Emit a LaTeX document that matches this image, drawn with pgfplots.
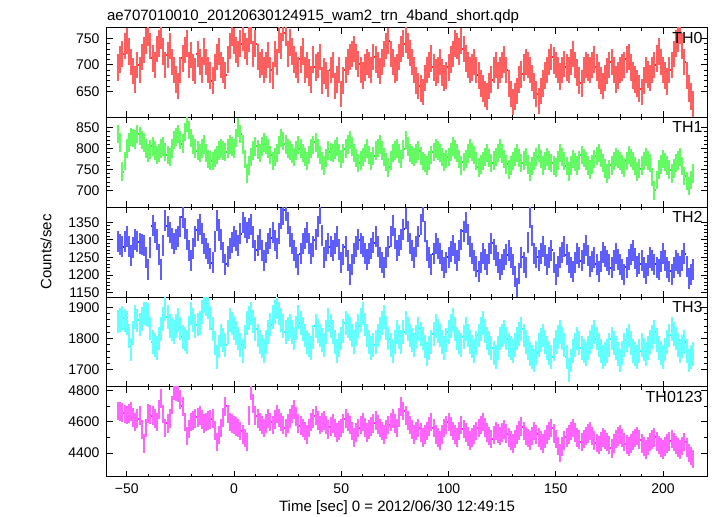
\documentclass[border=0pt]{standalone}
\usepackage{fontspec}
\setmainfont{Liberation Sans}
\usepackage{pgfplots}
\usepackage{pgfplotstable}
\pgfplotsset{compat=1.18}
\definecolor{qred}{RGB}{255,40,40}
\definecolor{qgreen}{RGB}{40,240,40}
\definecolor{qblue}{RGB}{40,40,255}
\definecolor{qcyan}{RGB}{40,250,250}
\definecolor{qmagenta}{RGB}{255,40,255}
\definecolor{lred}{RGB}{255,95,95}
\definecolor{lgreen}{RGB}{100,250,100}
\definecolor{lblue}{RGB}{95,95,255}
\definecolor{lcyan}{RGB}{100,255,255}
\definecolor{lmagenta}{RGB}{255,100,255}

\pgfplotstableread{
t a b c d e
-54 695 835 1295 1855 4670
-53 710 815 1288 1860 4665
-52 720 745 1280 1865 4660
-51 735 770 1295 1858 4650
-50 745 800 1310 1850 4645
-49 725 815 1282 1808 4655
-48 705 828 1255 1765 4665
-47 688 825 1278 1818 4630
-46 672 822 1300 1870 4600
-45 700 835 1295 1858 4620
-44 690 830 1290 1845 4640
-43 715 820 1288 1862 4550
-42 728 815 1285 1880 4460
-41 745 800 1250 1878 4560
-40 760 790 1215 1875 4655
-39 735 798 1278 1832 4648
-38 712 805 1340 1790 4640
-37 700 795 1320 1780 4620
-36 730 785 1300 1770 4600
-35 740 790 1258 1800 4680
-34 755 800 1215 1830 4750
-33 725 805 1285 1862 4650
-32 700 792 1355 1895 4560
-31 718 785 1338 1868 4590
-30 735 780 1320 1840 4620
-29 705 800 1305 1830 4710
-28 690 820 1290 1820 4800
-27 672 828 1300 1840 4795
-26 660 835 1310 1860 4790
-25 690 820 1338 1832 4745
-24 712 812 1365 1805 4700
-23 728 840 1332 1798 4600
-22 740 862 1300 1790 4510
-21 700 845 1270 1835 4555
-20 718 825 1240 1880 4600
-19 695 810 1275 1860 4610
-18 688 800 1310 1840 4620
-17 720 795 1328 1845 4630
-16 705 790 1345 1850 4640
-15 690 800 1318 1885 4615
-14 725 810 1290 1920 4590
-13 705 790 1275 1910 4600
-12 690 775 1260 1900 4610
-11 680 772 1248 1865 4615
-10 670 770 1235 1830 4620
-9 695 778 1295 1785 4545
-8 715 785 1355 1740 4470
-7 725 795 1328 1775 4515
-6 700 800 1300 1810 4560
-5 690 795 1265 1795 4630
-4 680 792 1230 1780 4700
-3 710 800 1252 1820 4650
-2 735 810 1275 1860 4600
-1 760 805 1292 1848 4590
0 745 800 1310 1835 4580
1 728 825 1298 1818 4570
2 720 850 1285 1800 4560
3 740 835 1318 1780 4540
4 752 810 1350 1760 4520
5 735 775 1335 1805 4495
6 725 740 1320 1850 4470
7 750 760 1332 1865 4640
8 765 780 1345 1880 4800
9 720 795 1308 1855 4720
10 740 805 1270 1830 4640
11 715 798 1285 1810 4620
12 700 790 1300 1790 4600
13 705 805 1270 1775 4580
14 690 815 1240 1760 4560
15 700 808 1265 1790 4590
16 718 800 1290 1820 4620
17 690 785 1305 1845 4600
18 680 770 1320 1870 4580
19 720 780 1298 1885 4615
20 705 790 1275 1900 4650
21 748 808 1318 1880 4625
22 735 825 1360 1860 4600
23 770 818 1372 1840 4580
24 760 810 1385 1820 4560
25 720 800 1348 1830 4590
26 742 795 1310 1840 4620
27 725 788 1290 1820 4650
28 710 780 1270 1800 4680
29 700 795 1250 1835 4635
30 690 808 1230 1870 4590
31 710 800 1260 1850 4575
32 725 790 1290 1830 4560
33 690 780 1305 1810 4540
34 700 770 1320 1790 4520
35 685 785 1290 1780 4560
36 672 800 1260 1770 4600
37 710 808 1280 1805 4620
38 695 815 1300 1840 4640
39 700 800 1338 1825 4610
40 715 785 1375 1810 4580
41 670 770 1312 1795 4595
42 688 760 1250 1780 4610
43 680 778 1270 1820 4580
44 665 795 1290 1860 4550
45 690 792 1280 1840 4570
46 700 790 1270 1820 4590
47 660 798 1290 1790 4560
48 672 805 1310 1760 4530
49 690 790 1272 1780 4545
50 645 775 1235 1800 4560
51 670 788 1258 1825 4590
52 690 800 1280 1850 4620
53 705 810 1240 1840 4600
54 715 820 1200 1830 4580
55 720 805 1230 1810 4540
56 730 790 1260 1790 4500
57 715 778 1280 1815 4530
58 702 765 1300 1840 4560
59 690 772 1290 1860 4580
60 680 780 1280 1880 4600
61 695 790 1262 1845 4565
62 705 800 1245 1810 4530
63 700 785 1260 1790 4550
64 690 770 1275 1770 4570
65 715 782 1292 1780 4590
66 710 795 1310 1790 4610
67 700 802 1280 1810 4585
68 688 810 1250 1830 4560
69 705 795 1235 1850 4540
70 720 780 1220 1870 4520
71 735 768 1250 1835 4550
72 745 755 1280 1800 4580
73 720 772 1310 1780 4600
74 705 790 1340 1760 4620
75 690 795 1305 1790 4590
76 695 800 1270 1820 4560
77 715 788 1285 1805 4630
78 730 775 1300 1790 4700
79 740 798 1330 1820 4670
80 748 820 1360 1850 4640
81 735 805 1325 1830 4610
82 722 790 1290 1810 4580
83 705 785 1270 1795 4550
84 690 780 1250 1780 4520
85 670 788 1280 1805 4540
86 660 795 1310 1830 4560
87 655 782 1345 1815 4530
88 648 770 1380 1800 4500
89 675 765 1325 1775 4520
90 690 760 1270 1750 4540
91 700 772 1250 1770 4570
92 712 785 1230 1790 4600
93 695 792 1260 1815 4560
94 685 800 1290 1840 4520
95 690 795 1275 1825 4500
96 705 790 1260 1810 4480
97 685 780 1240 1790 4520
98 675 768 1220 1770 4560
99 680 775 1235 1795 4580
100 695 780 1250 1820 4600
101 710 792 1268 1840 4570
102 720 805 1285 1860 4540
103 740 798 1262 1830 4520
104 735 790 1240 1800 4500
105 725 775 1270 1790 4540
106 745 760 1300 1780 4580
107 730 768 1325 1805 4555
108 712 775 1350 1830 4530
109 700 788 1315 1810 4505
110 690 800 1280 1790 4480
111 695 792 1260 1775 4500
112 705 785 1240 1760 4520
113 690 770 1225 1785 4540
114 680 755 1210 1810 4560
115 665 762 1235 1830 4580
116 655 770 1260 1850 4600
117 645 780 1245 1825 4565
118 640 790 1230 1800 4530
119 660 778 1260 1785 4510
120 672 765 1290 1770 4490
121 690 772 1272 1755 4515
122 700 780 1255 1740 4540
123 680 790 1235 1770 4525
124 690 800 1215 1800 4510
125 700 788 1230 1810 4530
126 710 775 1245 1820 4550
127 690 762 1258 1800 4525
128 665 750 1270 1780 4500
129 645 760 1250 1770 4480
130 630 770 1230 1760 4460
131 640 780 1195 1780 4490
132 650 790 1160 1800 4520
133 672 778 1205 1815 4545
134 682 765 1250 1830 4570
135 695 772 1235 1810 4540
136 705 780 1220 1790 4510
137 700 762 1292 1770 4495
138 690 745 1365 1750 4480
139 675 758 1312 1740 4510
140 660 770 1260 1730 4540
141 645 780 1250 1755 4520
142 632 790 1240 1780 4500
143 650 775 1260 1795 4480
144 665 760 1280 1810 4460
145 680 770 1255 1790 4490
146 690 780 1230 1770 4520
147 705 772 1250 1755 4540
148 715 765 1270 1740 4560
149 708 760 1235 1765 4525
150 700 755 1200 1790 4490
151 690 772 1225 1805 4445
152 678 790 1250 1820 4400
153 690 780 1265 1800 4440
154 702 770 1280 1780 4480
155 695 758 1258 1740 4500
156 690 745 1235 1700 4520
157 705 760 1222 1730 4540
158 720 775 1210 1760 4560
159 700 768 1235 1780 4530
160 685 760 1260 1800 4500
161 670 772 1250 1785 4485
162 665 785 1240 1770 4470
163 690 778 1262 1760 4490
164 700 770 1285 1750 4510
165 695 760 1255 1770 4525
166 690 750 1225 1790 4540
167 700 762 1238 1805 4510
168 710 775 1250 1820 4480
169 695 782 1230 1800 4465
170 680 790 1210 1780 4450
171 670 778 1238 1760 4475
172 660 765 1265 1740 4500
173 675 752 1252 1750 4485
174 688 740 1240 1760 4470
175 700 750 1230 1780 4450
176 705 760 1220 1800 4430
177 690 770 1240 1785 4460
178 672 780 1260 1770 4490
179 680 775 1245 1750 4505
180 690 770 1230 1730 4520
181 695 762 1215 1755 4495
182 700 755 1200 1780 4470
183 710 770 1222 1795 4455
184 715 785 1245 1810 4440
185 695 778 1258 1785 4460
186 680 770 1270 1760 4480
187 672 758 1248 1750 4495
188 665 745 1225 1740 4510
189 655 752 1232 1760 4485
190 648 760 1240 1780 4460
191 670 770 1222 1765 4440
192 690 780 1205 1750 4420
193 682 772 1228 1770 4445
194 675 765 1250 1790 4470
195 690 732 1240 1805 4485
196 700 700 1230 1820 4500
197 712 725 1222 1795 4475
198 725 750 1215 1770 4450
199 705 762 1238 1755 4435
200 690 775 1260 1740 4420
201 680 768 1240 1765 4440
202 668 760 1220 1790 4460
203 690 750 1210 1810 4475
204 700 740 1200 1830 4490
205 720 752 1220 1815 4470
206 740 765 1240 1800 4450
207 750 772 1232 1780 4435
208 765 780 1225 1760 4420
209 735 758 1242 1775 4445
210 705 735 1260 1790 4470
211 680 722 1225 1760 4435
212 655 710 1190 1730 4400
213 640 725 1202 1740 4380
214 625 740 1215 1750 4360
}\data

\pgfplotsset{
  panel/.style={
    scale only axis, width=300.2pt, height=44.92pt,
    xmin=-59.4, xmax=220.5,
    xtick={-50,0,50,100,150,200},
    minor x tick num=4,
    xticklabels={},
    tick align=inside,
    major tick length=3pt, minor tick length=1.5pt,
    tick style={black, line width=0.4pt},
    yticklabel style={font=\fontsize{7}{8}\selectfont},
    xticklabel style={font=\fontsize{7}{8}\selectfont},
    /pgf/number format/assume math mode=true,
    /pgf/number format/1000 sep={},
    anchor=south west,
    axis line style={line width=0.5pt},
  },
  qbar/.style n args={3}{jump mark mid, draw=#1, line width=1.0pt, mark=none,
    error bars/.cd, y dir=both, y fixed=#3, error mark=none,
    error bar style={line width=1.0pt, draw=#2}},
}
\tikzset{lab/.style={anchor=north east, inner sep=0pt, font=\fontsize{8}{9}\selectfont, xshift=-2pt, yshift=-2pt}}

\begin{document}
\begin{tikzpicture}
\useasboundingbox (0,0) rectangle (358.5pt,258pt);

\begin{axis}[panel, at={(53.3pt,199.33pt)}, ymin=600.6, ymax=770.5, ytick={650,700,750}, minor y tick num=4]
\addplot[qbar={qred}{lred}{25}] table[x=t, y=a] {\data};
\node[lab] at (rel axis cs:1,1) {TH0};
\end{axis}

\begin{axis}[panel, at={(53.3pt,154.41pt)}, ymin=660, ymax=874.6, ytick={700,750,800,850}, minor y tick num=4]
\addplot[qbar={qgreen}{lgreen}{22}] table[x=t, y=b] {\data};
\node[lab] at (rel axis cs:1,1) {TH1};
\end{axis}

\begin{axis}[panel, at={(53.3pt,109.49pt)}, ymin=1137, ymax=1393, ytick={1150,1200,1250,1300,1350}, minor y tick num=4]
\addplot[qbar={qblue}{lblue}{30}] table[x=t, y=c] {\data};
\node[lab] at (rel axis cs:1,1) {TH2};
\end{axis}

\begin{axis}[panel, at={(53.3pt,64.57pt)}, ymin=1645.5, ymax=1933, ytick={1700,1800,1900}, minor y tick num=4]
\addplot[qbar={qcyan}{lcyan}{38}] table[x=t, y=d] {\data};
\node[lab] at (rel axis cs:1,1) {TH3};
\end{axis}

\begin{axis}[panel, at={(53.3pt,19.65pt)}, ymin=4246.6, ymax=4825.6, ytick={4400,4600,4800}, minor y tick num=1,
  xticklabels={−50,0,50,100,150,200}]
\addplot[qbar={qmagenta}{lmagenta}{60}] table[x=t, y=e] {\data};
\node[lab] at (rel axis cs:1,1) {TH0123};
\end{axis}

\node[anchor=base west, inner sep=0pt, font=\fontsize{7.5}{9}\selectfont] at (53.3pt,248pt) {ae707010010\_20120630124915\_wam2\_trn\_4band\_short.qdp};
\node[anchor=base, inner sep=0pt, font=\fontsize{7.5}{9}\selectfont] at (198.5pt,2.2pt) {Time [sec] 0 = 2012/06/30 12:49:15};
\node[rotate=90, inner sep=0pt, font=\fontsize{7.5}{9}\selectfont] at (23pt,132pt) {Counts/sec};
\end{tikzpicture}
\end{document}
